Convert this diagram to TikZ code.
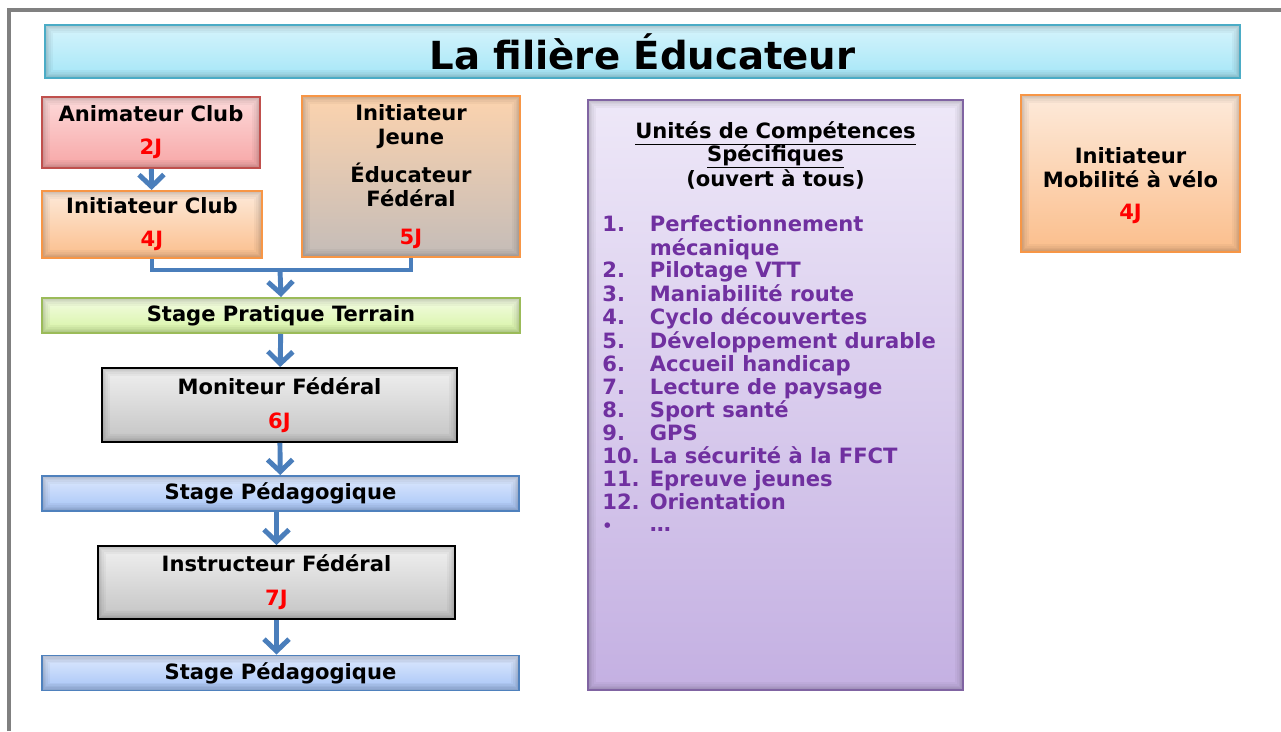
\documentclass[tikz,border=0pt]{standalone}
\usepackage{fontspec}
\setmainfont{DejaVu Sans}
\usepackage{tikz}
\usetikzlibrary{arrows.meta}
\usetikzlibrary{positioning}

\definecolor{flowblue}{HTML}{4A7EBB}
\definecolor{daysred}{HTML}{FF0000}
\definecolor{ucpurple}{HTML}{7030A0}
\definecolor{framegray}{HTML}{808080}
\definecolor{titleline}{HTML}{4BACC6}
\definecolor{titletop}{HTML}{D6F4FC}
\definecolor{titlebot}{HTML}{A5E6F7}

\newcommand{\nbdays}[1]{{\color{daysred}#1}}
% underline that does not push the lines apart
\newcommand{\ucsline}[1]{\underline{\smash{#1}\rule[-1.8pt]{0pt}{0pt}}}

\tikzstyle{box} = [
    rectangle,
    line width=1.1pt,
    align=center,
    inner sep=0pt,
    font=\fontsize{12}{13.8}\selectfont\bfseries
]
\tikzstyle{glow} = [
    path picture={
        % soft dark rim inside the box
        \foreach \w in {9,7,5,3.5,2}
            \draw[black, opacity=0.035, line width=\w pt]
                (path picture bounding box.south west) rectangle (path picture bounding box.north east);
    }
]
\tikzstyle{title_bar} = [
    box, glow,
    draw=titleline,
    top color=titletop,
    bottom color=titlebot,
    font=\fontsize{22}{26}\selectfont\bfseries
]
\tikzstyle{red_box} = [
    box, glow,
    draw={rgb,255:red,192;green,80;blue,77},
    top color={rgb,255:red,253;green,218;blue,218},
    bottom color={rgb,255:red,247;green,166;blue,166}
]
\tikzstyle{orange_box} = [
    box, glow,
    draw={rgb,255:red,247;green,150;blue,70},
    top color={rgb,255:red,253;green,234;blue,218},
    bottom color={rgb,255:red,251;green,190;blue,140}
]
\tikzstyle{tan_box} = [
    box, glow,
    draw={rgb,255:red,247;green,150;blue,70},
    top color={rgb,255:red,252;green,211;blue,174},
    bottom color={rgb,255:red,196;green,188;blue,184}
]
\tikzstyle{green_stage} = [
    box, glow,
    draw={rgb,255:red,155;green,187;blue,89},
    top color={rgb,255:red,244;green,252;blue,227},
    bottom color={rgb,255:red,214;green,244;blue,164}
]
\tikzstyle{gray_box} = [
    box, glow,
    draw=black,
    top color={rgb,255:red,240;green,240;blue,240},
    bottom color={rgb,255:red,196;green,196;blue,196}
]
\tikzstyle{blue_stage} = [
    box, glow,
    draw={rgb,255:red,79;green,129;blue,189},
    top color={rgb,255:red,222;green,233;blue,254},
    bottom color={rgb,255:red,166;green,196;blue,246}
]
\tikzstyle{purple_box} = [
    box, glow,
    draw={rgb,255:red,128;green,100;blue,162},
    top color={rgb,255:red,238;green,232;blue,248},
    bottom color={rgb,255:red,196;green,176;blue,226}
]
\tikzstyle{flow_line} = [
    draw=flowblue,
    line width=2.8pt
]
\tikzstyle{flow_arrow} = [
    flow_line,
    -{Straight Barb[length=2.4mm, width=5mm]}
]

\begin{document}
\begin{tikzpicture}[x=0.02cm, y=-0.02cm]
\useasboundingbox (0,0) rectangle (1281,731);
% frame
\draw[framegray, line width=2.2pt] (9,731) |- (1281,10);

\node (title) [title_bar, minimum width=1195*0.02cm, minimum height=53*0.02cm]
    at (642.5,51.5) {La filière Éducateur};

% left column
\node (ac) [red_box, minimum width=218*0.02cm, minimum height=71*0.02cm]
    at (151,132.5) {Animateur Club\\[5pt]\nbdays{2J}};
\node (ic) [orange_box, minimum width=220*0.02cm, minimum height=67*0.02cm]
    at (152,224.5) {Initiateur Club\\[5pt]\nbdays{4J}};
\node (ije) [tan_box, minimum width=218*0.02cm, minimum height=161*0.02cm]
    at (411,176.5) {Initiateur\\Jeune\\[7.5pt]Éducateur\\Fédéral\\[7.5pt]\nbdays{5J}};
\node (spt) [green_stage, minimum width=478*0.02cm, minimum height=35*0.02cm]
    at (281,315.5) {Stage Pratique Terrain};
\node (mf) [gray_box, minimum width=355*0.02cm, minimum height=74*0.02cm]
    at (279.5,405) {Moniteur Fédéral\\[5.5pt]\nbdays{6J}};
\node (sp1) [blue_stage, minimum width=477*0.02cm, minimum height=35*0.02cm]
    at (280.5,493.5) {Stage Pédagogique};
\node (if) [gray_box, minimum width=357*0.02cm, minimum height=73*0.02cm]
    at (276.5,582.5) {Instructeur Fédéral\\[5.5pt]\nbdays{7J}};
\node (sp2) [blue_stage, minimum width=477*0.02cm, minimum height=35*0.02cm]
    at (280.5,673) {Stage Pédagogique};

\coordinate (join) at (280,270);
\draw[flow_arrow] (ac) -- (ic);
\draw[flow_line] (ic.south) |- (join) -| (ije.south);
\draw[flow_arrow] (join) -- (spt.north);
\draw[flow_arrow] (spt) -- (mf);
\draw[flow_arrow] (mf) -- (sp1);
\draw[flow_arrow] (if.north |- sp1.south) -- (if.north);
\draw[flow_arrow] (if.south) -- (sp2.north -| if.south);

% unites de competences
\node (ucs) [purple_box, minimum width=375*0.02cm, minimum height=590*0.02cm]
    at (775.5,395) {};
\node (ucs_head) [below=0.78cm of ucs.north, align=center, inner sep=0pt,
    font=\fontsize{12}{13.1}\selectfont\bfseries]
    {\ucsline{Unités de Compétences}\\\ucsline{Spécifiques}\\(ouvert à tous)};
\node (ucs_list) [below right=2.32cm and 0.3cm of ucs.north west, anchor=north west,
    inner sep=0pt, text=ucpurple, font=\fontsize{12}{12.8}\selectfont\bfseries]
    {\begin{tabular}{@{}p{27pt}@{}l@{}}
    1. & Perfectionnement\\
       & mécanique\\
    2. & Pilotage VTT\\
    3. & Maniabilité route\\
    4. & Cyclo découvertes\\
    5. & Développement durable\\
    6. & Accueil handicap\\
    7. & Lecture de paysage\\
    8. & Sport santé\\
    9. & GPS\\
    10. & La sécurité à la FFCT\\
    11. & Epreuve jeunes\\
    12. & Orientation\\
    {\small •} & …
    \end{tabular}};

% right box
\node (imv) [orange_box, minimum width=219*0.02cm, minimum height=157*0.02cm]
    at (1130.5,173.5) {};
\node (imv_text) [box, below=0cm of imv.center, anchor=center, yshift=-0.24cm]
    {Initiateur\\Mobilité à vélo\\[4pt]\nbdays{4J}};
\end{tikzpicture}
\end{document}
